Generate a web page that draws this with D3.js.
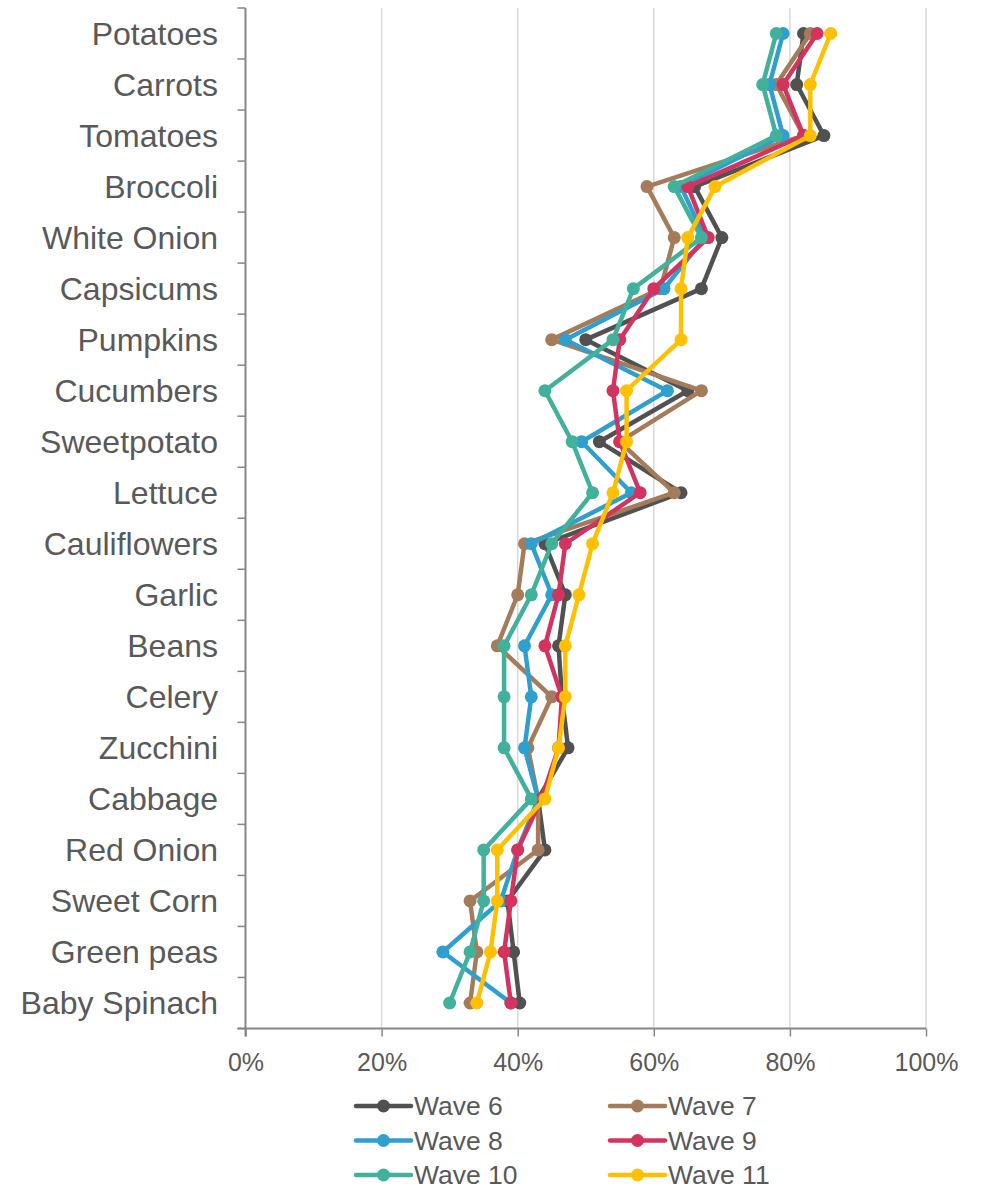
<!DOCTYPE html>
<html>
<head>
<meta charset="utf-8">
<script src="https://cdn.jsdelivr.net/npm/d3@7"></script>
<style>
  body { margin: 0; background: #fff; }
  svg text { font-family: "Liberation Sans", Arial, sans-serif; fill: #595959; }
</style>
</head>
<body>
<svg id="chart"></svg>
<script>
  var categories = ['Potatoes', 'Carrots', 'Tomatoes', 'Broccoli', 'White Onion', 'Capsicums',
    'Pumpkins', 'Cucumbers', 'Sweetpotato', 'Lettuce', 'Cauliflowers', 'Garlic', 'Beans',
    'Celery', 'Zucchini', 'Cabbage', 'Red Onion', 'Sweet Corn', 'Green peas', 'Baby Spinach'];

  var seriesNames = ['Wave 6', 'Wave 7', 'Wave 8', 'Wave 9', 'Wave 10', 'Wave 11'];

  var wave6  = [82, 81, 85, 66, 70, 67, 50, 65, 52, 64, 44, 47, 46, 46.5, 47.4, 43, 44, 38.5, 39.4, 40.3];
  var wave7  = [83, 78, 82, 59, 63, 61, 45, 67, 55, 63, 41, 40, 37, 45, 41.5, 43, 43, 33, 34, 33];
  var wave8  = [79, 77, 79, 64, 67.5, 61.5, 47, 62, 49.4, 56.7, 42, 45, 41, 42, 41, 43, 40, 37.5, 29, 39];
  var wave9  = [84, 79, 82, 65, 68, 60, 55, 54, 55, 58, 47, 46, 44, 46.5, 46, 43.5, 40, 39, 38, 39];
  var wave10 = [78, 76, 78, 63, 67, 57, 54, 44, 48, 51, 45, 42, 38, 38, 38, 42, 35, 35, 33, 30];
  var wave11 = [86, 83, 83, 69, 65, 64, 64, 56, 56, 54, 51, 49, 47, 47, 46, 44, 37, 37, 36, 34];

  var xTicks = [0, 20, 40, 60, 80, 100];
  var colors = ['#515151', '#a57c5b', '#2f9fce', '#d2335f', '#41b19b', '#fec000'];

  var allSeries = [wave6, wave7, wave8, wave9, wave10, wave11];

  var width = 985, height = 1190;
  var plotLeft = 245.5, plotRight = 926, plotTop = 8, plotBottom = 1028.5;

  var svg = d3.select('#chart').attr('width', width).attr('height', height);

  var x = d3.scaleLinear().domain([0, 100]).range([plotLeft, plotRight]);
  var y = d3.scaleBand().domain(categories).range([plotTop, plotBottom]).padding(0);

  // gridlines
  svg.append('g').selectAll('line').data(xTicks.slice(1)).enter().append('line')
    .attr('x1', function(d) { return x(d); })
    .attr('x2', function(d) { return x(d); })
    .attr('y1', plotTop).attr('y2', plotBottom)
    .attr('stroke', '#d9d9d9').attr('stroke-width', 1.5);

  // x axis
  var xAxis = svg.append('g')
    .attr('transform', 'translate(0,' + plotBottom + ')')
    .call(d3.axisBottom(x).tickValues(xTicks).tickSize(8).tickSizeOuter(0)
      .tickFormat(function(d) { return d + '%'; }));
  xAxis.select('.domain').remove();
  xAxis.append('line').attr('x1', plotLeft - 8).attr('x2', plotRight).attr('y1', 0).attr('y2', 0)
    .attr('stroke', '#868686').attr('stroke-width', 2);
  xAxis.selectAll('.tick line').attr('stroke', '#868686').attr('stroke-width', 1.5);
  xAxis.selectAll('.tick text').attr('dy', 0).attr('y', 42)
    .style('font-size', '25px').attr('fill', '#595959');

  // y axis
  var yAxis = svg.append('g');
  yAxis.append('line').attr('x1', plotLeft).attr('x2', plotLeft).attr('y1', plotTop).attr('y2', plotBottom + 8)
    .attr('stroke', '#868686').attr('stroke-width', 2);
  var bounds = categories.map(function(c) { return y(c); }).concat([plotBottom]);
  yAxis.selectAll('.yt').data(bounds).enter().append('line')
    .attr('class', 'yt')
    .attr('x1', plotLeft - 8).attr('x2', plotLeft)
    .attr('y1', function(d) { return d; }).attr('y2', function(d) { return d; })
    .attr('stroke', '#868686').attr('stroke-width', 1.5);
  yAxis.selectAll('.yl').data(categories).enter().append('text')
    .attr('class', 'yl')
    .attr('x', 218)
    .attr('y', function(d) { return y(d) + y.bandwidth() / 2; })
    .attr('dy', '0.35em')
    .attr('text-anchor', 'end')
    .style('font-size', '32px')
    .text(function(d) { return d; });

  var line = d3.line()
    .x(function(d) { return x(d); })
    .y(function(d, i) { return y(categories[i]) + y.bandwidth() / 2; });

  allSeries.forEach(function(values, s) {
    var g = svg.append('g');
    g.append('path').attr('d', line(values))
      .attr('fill', 'none').attr('stroke', colors[s]).attr('stroke-width', 4.5)
      .attr('stroke-linejoin', 'round');
    g.selectAll('circle').data(values).enter().append('circle')
      .attr('cx', function(d) { return x(d); })
      .attr('cy', function(d, i) { return y(categories[i]) + y.bandwidth() / 2; })
      .attr('r', 6.5)
      .attr('fill', colors[s]);
  });

  // legend
  var legend = svg.append('g');
  seriesNames.forEach(function(name, i) {
    var col = i % 2, row = Math.floor(i / 2);
    var lx = col === 0 ? 356 : 610;
    var ly = 1106 + row * 34.5;
    legend.append('line').attr('x1', lx).attr('x2', lx + 55).attr('y1', ly).attr('y2', ly)
      .attr('stroke', colors[i]).attr('stroke-width', 4.5).attr('stroke-linecap', 'round');
    legend.append('circle').attr('cx', lx + 27.5).attr('cy', ly).attr('r', 6.5).attr('fill', colors[i]);
    legend.append('text').attr('x', lx + 58).attr('y', ly).attr('dy', '0.35em')
      .style('font-size', '26.5px').text(name);
  });
</script>
</body>
</html>
